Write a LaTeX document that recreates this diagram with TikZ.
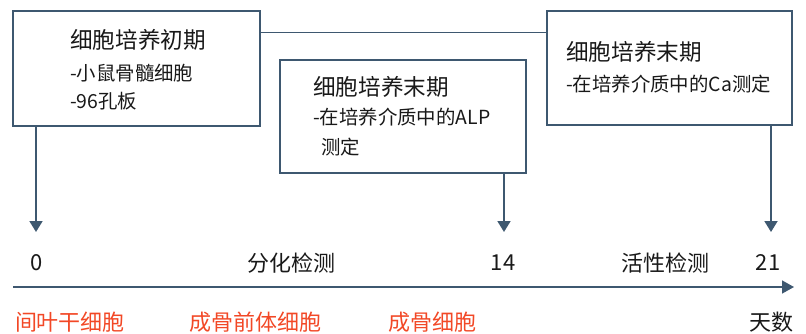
\documentclass[tikz,border=0pt]{standalone}
\usepackage{fontspec}
\setmainfont{Noto Sans CJK SC}
\usetikzlibrary{arrows.meta}
\definecolor{linec}{RGB}{62,88,112}
\definecolor{redc}{RGB}{242,72,38}
\definecolor{txtc}{RGB}{25,25,25}
\begin{document}
\begin{tikzpicture}[x=1pt,y=-1pt,
  box/.style={draw=linec,line width=1.4pt,fill=white,inner sep=0pt},
  tl/.style={anchor=west,inner sep=0pt,text=txtc,font=\fontsize{22.6}{26}\selectfont},
  bl/.style={anchor=west,inner sep=0pt,text=txtc,font=\fontsize{19.4}{23}\selectfont},
  axl/.style={inner sep=0pt,text=txtc,font=\fontsize{22}{25}\selectfont},
  redl/.style={inner sep=0pt,text=redc,font=\fontsize{22}{25}\selectfont},
  arr/.style={draw=linec,line width=1.8pt,-{Triangle[width=13pt,length=11pt]}}]
\useasboundingbox (0,0) rectangle (806,333);
% boxes
\node[box,minimum width=247pt,minimum height=115pt] (b1) at (136.5,68.5) {};
\node[box,minimum width=246pt,minimum height=113pt] (b2) at (403,116.5) {};
\node[box,minimum width=245pt,minimum height=114pt] (b3) at (669.5,68) {};
% connector between box1 and box3
\draw[linec,line width=1.4pt] ([yshift=-22pt]b1.north east) -- ([yshift=-22pt]b1.north east -| b3.west);
% box texts
\node[tl] (t1) at (70,40) {细胞培养初期};
\node[bl] (t1a) at (70,73) {-小鼠骨髓细胞};
\node[bl] (t1b) at (70,101) {-96孔板};
\node[tl] (t2) at (313,87) {细胞培养末期};
\node[bl] (t2a) at (313,117) {-在培养介质中的ALP};
\node[bl] (t2b) at (321,147) {测定};
\node[tl] (t3) at (566,52) {细胞培养末期};
\node[bl] (t3a) at (566,84) {-在培养介质中的Ca测定};
% axis labels
\node[axl] (l0) at (37,263) {0};
\node[axl] (lf) at (291,263) {分化检测};
\node[axl] (l14) at (503,263) {14};
\node[axl] (lh) at (665,263) {活性检测};
\node[axl] (l21) at (768,263) {21};
% down arrows
\coordinate (a0) at (36,232);
\coordinate (a14) at (504,232);
\coordinate (a21) at (771,232);
\draw[arr] (b1.south -| a0) -- (a0);
\draw[arr] (b2.south -| a14) -- (a14);
\draw[arr] (b3.south -| a21) -- (a21);
% timeline
\coordinate (ts) at (13,287);
\coordinate (te) at (794,287);
\draw[draw=linec,line width=1.6pt,-{Triangle[width=13pt,length=12pt]}] (ts) -- (te);
% bottom labels
\node[redl] (r1) at (70,322) {间叶干细胞};
\node[redl] (r2) at (255,322) {成骨前体细胞};
\node[redl] (r3) at (432,322) {成骨细胞};
\node[axl] (days) at (771,322) {天数};
\end{tikzpicture}
\end{document}
